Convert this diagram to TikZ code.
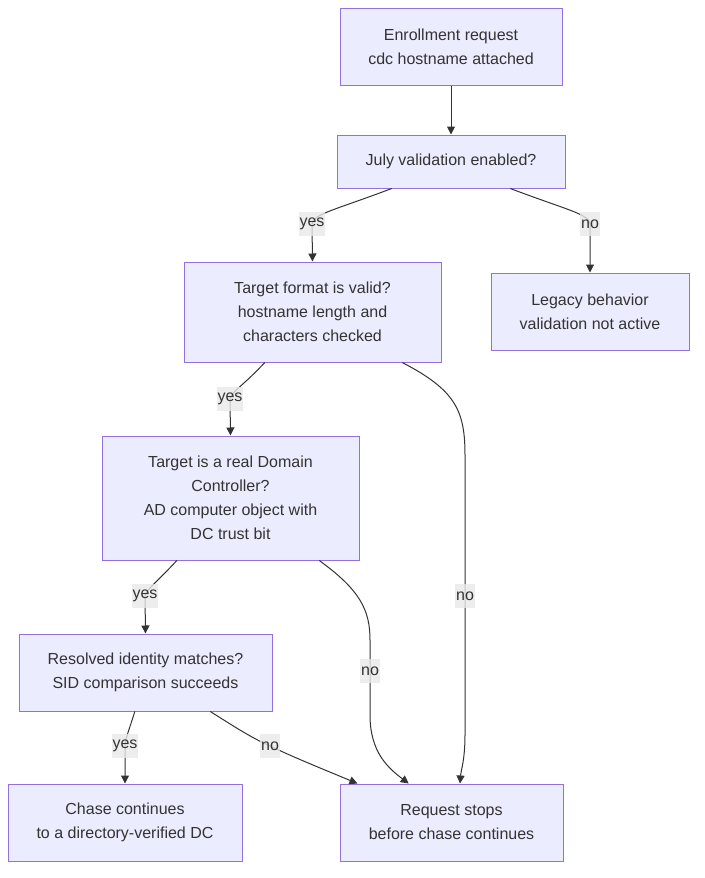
\documentclass[tikz,border=0pt]{standalone}
\usepackage{fontspec}
\setmainfont{Liberation Sans}
\usetikzlibrary{arrows.meta,calc}

\definecolor{boxfill}{HTML}{ECECFF}
\definecolor{boxline}{HTML}{9370DB}
\definecolor{edgeline}{HTML}{333333}
\definecolor{lblgray}{HTML}{E8E8E8}

\tikzset{
  box/.style={draw=boxline, fill=boxfill, line width=0.75pt, align=center,
    inner sep=0pt, text=edgeline, font=\fontsize{12pt}{18pt}\selectfont},
  edge/.style={draw=edgeline, line width=0.75pt,
    -{Triangle[length=6pt,width=6pt]}},
  lbl/.style={fill=lblgray, fill opacity=0.8, text opacity=1, text=edgeline,
    inner xsep=0.75pt, inner ysep=0pt, minimum height=18pt,
    font=\fontsize{12pt}{14pt}\selectfont},
}

\begin{document}
\begin{tikzpicture}[x=0.75pt, y=-0.75pt]
  \useasboundingbox (0,0) rectangle (705,878);
  % boxes
  \node [box, minimum width=166.5pt, minimum height=57.75pt] (req) at (451,46.5) {Enrollment request\\cdc hostname attached};
  \node [box, minimum width=171pt, minimum height=39.75pt] (july) at (451,161.5) {July validation enabled?};
  \node [box, minimum width=192.75pt, minimum height=75pt] (fmt) at (312.5,312) {Target format is valid?\\hostname length and\\characters checked};
  \node [box, minimum width=148.5pt, minimum height=57.75pt] (legacy) at (590,311.5) {Legacy behavior\\validation not active};
  \node [box, minimum width=192.75pt, minimum height=93pt] (dc) at (230.5,498) {Target is a real Domain\\Controller?\\AD computer object with\\DC trust bit};
  \node [box, minimum width=189.75pt, minimum height=57.75pt] (sid) at (145.5,672.5) {Resolved identity matches?\\SID comparison succeeds};
  \node [box, minimum width=175.5pt, minimum height=57.75pt] (chase) at (125,822.5) {Chase continues\\to a directory-verified DC};
  \node [box, minimum width=167.25pt, minimum height=57.75pt] (stop) at (451.5,822.5) {Request stops\\before chase continues};

  % label spots
  \coordinate (yesA) at (312,224);
  \coordinate (noA) at (590,224);
  \coordinate (yesB) at (230,399);
  \coordinate (noB) at (465,596);
  \coordinate (yesC) at (145,596);
  \coordinate (noC) at (370,671);
  \coordinate (yesD) at (125,746);
  \coordinate (noD) at (270,746);

  % connectors
  \draw [edge] (req) -- (july);
  \draw [edge] ($(july.south west)!0.241!(july.south east)$) .. controls (335,210) and (313,214) .. (yesA) -- (fmt.north);
  \draw [edge] ($(july.south west)!0.759!(july.south east)$) .. controls (567,210) and (589,214) .. (noA) -- (legacy.north);
  \draw [edge] ($(fmt.south west)!0.315!(fmt.south east)$) .. controls (243,386) and (231,392) .. (yesB) -- (dc.north);
  \draw [edge] ($(fmt.south west)!0.848!(fmt.south east)$) .. controls (455,390) and (465,410) .. (465,455) -- (noB) -- (465,735) .. controls (465,760) and (461,770) .. ($(stop.north west)!0.538!(stop.north east)$);
  \draw [edge] ($(dc.south west)!0.292!(dc.south east)$) .. controls (155,584) and (146,590) .. (yesC) -- (sid.north);
  \draw [edge] ($(dc.south west)!0.844!(dc.south east)$) .. controls (360,590) and (370,610) .. (370,640) -- (noC) -- (370,715) .. controls (370,752) and (388,768) .. ($(stop.north west)!0.309!(stop.north east)$);
  \draw [edge] ($(sid.south west)!0.458!(sid.south east)$) .. controls (129,730) and (125,740) .. (yesD) -- (chase.north);
  \draw [edge] ($(sid.south west)!0.755!(sid.south east)$) .. controls (235,727) and (250,737) .. (noD) .. controls (295,758) and (330,772) .. ($(stop.north west)!0.08!(stop.north east)$);

  % labels
  \node [lbl] (l1) at (yesA) {yes};
  \node [lbl] (l2) at (noA) {no};
  \node [lbl] (l3) at (yesB) {yes};
  \node [lbl] (l4) at (noB) {no};
  \node [lbl] (l5) at (yesC) {yes};
  \node [lbl] (l6) at (noC) {no};
  \node [lbl] (l7) at (yesD) {yes};
  \node [lbl] (l8) at (noD) {no};
\end{tikzpicture}
\end{document}
